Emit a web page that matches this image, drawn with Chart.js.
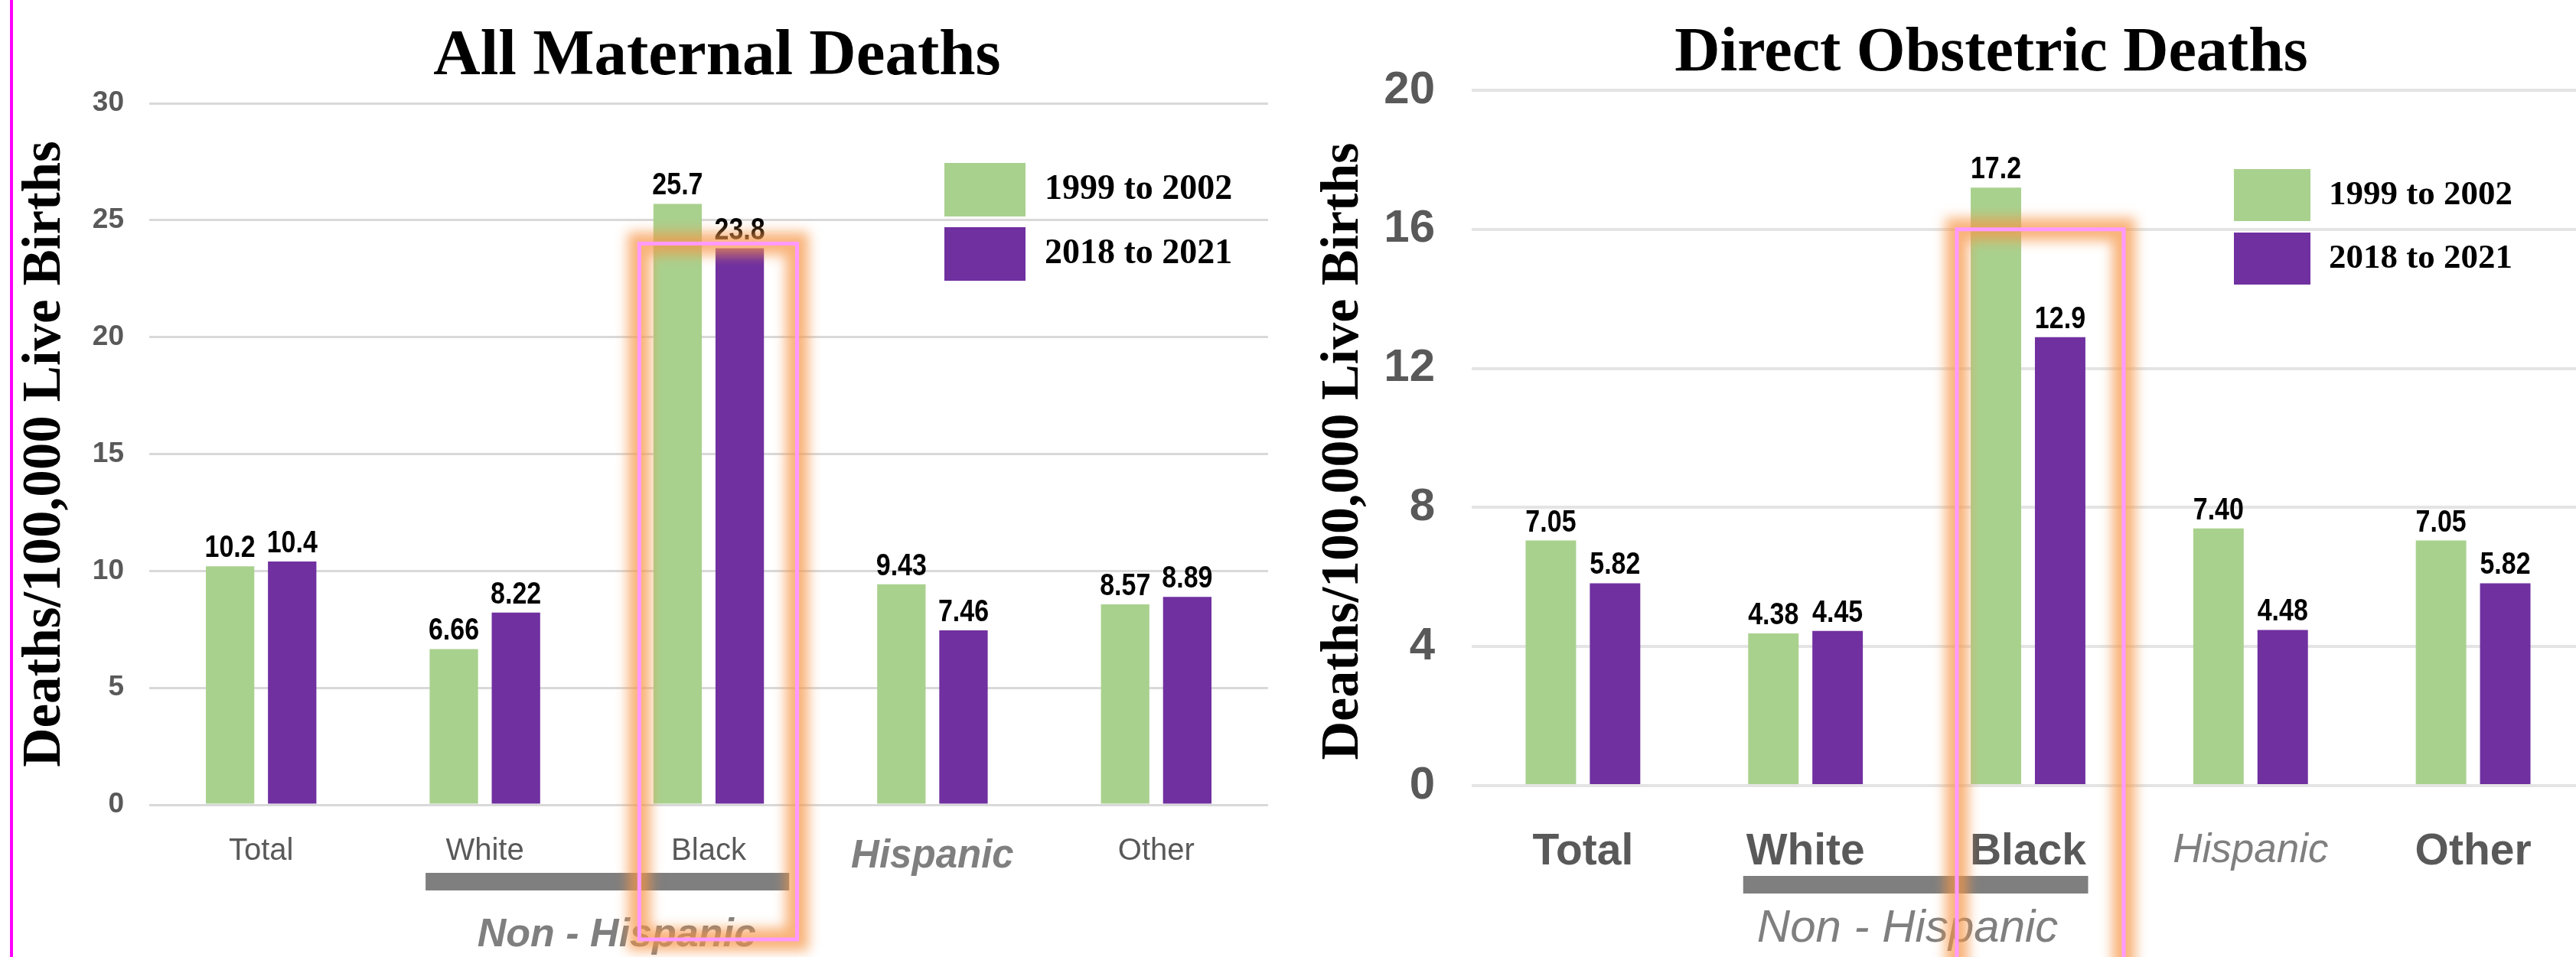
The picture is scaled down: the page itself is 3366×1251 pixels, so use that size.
<!DOCTYPE html>
<html>
<head>
<meta charset="utf-8">
<script src="https://cdn.jsdelivr.net/npm/chart.js@4.4.1/dist/chart.umd.min.js"></script>
<style>
  html, body { margin: 0; padding: 0; background: #fff; width: 3366px; height: 1251px; overflow: hidden; }
  .wrap { position: absolute; top: 0; height: 1251px; }
  #leftWrap { left: 0; width: 1874px; }
  #rightWrap { left: 1680px; width: 1844px; }
  #edge { position: absolute; left: 13px; top: 0; width: 4px; height: 1251px; background: #ff00ff; }
</style>
</head>
<body>
<div id="leftWrap" class="wrap"><canvas id="allChart"></canvas></div>
<div id="rightWrap" class="wrap"><canvas id="directChart"></canvas></div>
<div id="edge"></div>
<script>
// data
const categories = ['Total', 'White', 'Black', 'Hispanic', 'Other'];
const periods = ['1999 to 2002', '2018 to 2021'];
const groupLabel = 'Non - Hispanic';

const allEarly = [10.2, 6.66, 25.7, 9.43, 8.57];
const allLate = [10.4, 8.22, 23.8, 7.46, 8.89];
const allTicks = [0, 5, 10, 15, 20, 25, 30];

const directEarly = [7.05, 4.38, 17.2, 7.40, 7.05];
const directLate = [5.82, 4.45, 12.9, 4.48, 5.82];
const directTicks = [0, 4, 8, 12, 16, 20];

const GREEN = '#a9d18e';
const PURPLE = '#7030a0';

// numbers above the bars
const valueLabels = {
  id: 'valueLabels',
  afterDatasetsDraw(chart, args, opts) {
    const ctx = chart.ctx;
    ctx.save();
    ctx.fillStyle = '#000';
    ctx.font = 'bold 40px "Liberation Sans", Arial, sans-serif';
    ctx.textAlign = 'center';
    ctx.textBaseline = 'alphabetic';
    chart.data.datasets.forEach((ds, i) => {
      chart.getDatasetMeta(i).data.forEach((bar, j) => {
        const v = ds.data[j];
        const txt = v >= 10 ? v.toFixed(1) : v.toFixed(2);
        ctx.save();
        ctx.translate(bar.x, bar.y - opts.gap);
        ctx.scale(0.85, 1);
        ctx.fillText(txt, 0, 0);
        ctx.restore();
      });
    });
    ctx.restore();
  }
};

// stacked legend with big colour boxes
const boxLegend = {
  id: 'boxLegend',
  afterDraw(chart, args, o) {
    const ctx = chart.ctx;
    ctx.save();
    ctx.font = 'bold ' + o.fontSize + 'px "Liberation Serif", serif';
    ctx.textBaseline = 'middle';
    chart.data.datasets.forEach((ds, i) => {
      const y = o.y + i * (o.h + o.gap);
      ctx.fillStyle = ds.backgroundColor;
      ctx.fillRect(o.x, y, o.w, o.h);
      ctx.fillStyle = '#000';
      ctx.fillText(ds.label, o.x + o.w + o.textGap, y + o.h / 2);
    });
    ctx.restore();
  }
};

// grey bracket under White+Black, its label, and the glowing box round Black
const groupMarks = {
  id: 'groupMarks',
  afterDraw(chart, args, o) {
    const { ctx, chartArea } = chart;
    const x = chart.scales.x, y = chart.scales.y;
    const step = x.getPixelForValue(1) - x.getPixelForValue(0);
    ctx.save();
    const gx0 = x.getPixelForValue(1) + o.bar.from * step;
    const gx1 = x.getPixelForValue(2) + o.bar.to * step;
    ctx.fillStyle = '#7f7f7f';
    ctx.fillRect(gx0, chartArea.bottom + o.bar.dy, gx1 - gx0, o.bar.h);

    ctx.font = o.note.font;
    ctx.fillStyle = '#7f7f7f';
    ctx.textAlign = 'center';
    ctx.textBaseline = 'middle';
    const mid = (x.getPixelForValue(1) + x.getPixelForValue(2)) / 2;
    ctx.fillText(groupLabel, mid + o.note.dx, chartArea.bottom + o.note.dy);

    const hx0 = x.getPixelForValue(2) + o.box.from * step;
    const hx1 = x.getPixelForValue(2) + o.box.to * step;
    const hy0 = y.getPixelForValue(o.box.top);
    const hy1 = chartArea.bottom + o.box.dy;
    ctx.filter = 'blur(8px)';
    ctx.strokeStyle = 'rgba(247,150,70,0.72)';
    ctx.lineWidth = 30;
    ctx.strokeRect(hx0, hy0, hx1 - hx0, hy1 - hy0);
    ctx.filter = 'none';
    ctx.strokeStyle = '#ff99ff';
    ctx.lineWidth = 5;
    ctx.strokeRect(hx0, hy0, hx1 - hx0, hy1 - hy0);
    ctx.restore();
  }
};

function makeChart(id, cfg) {
  return new Chart(document.getElementById(id), {
    type: 'bar',
    data: {
      labels: categories,
      datasets: [
        { label: periods[0], data: cfg.early, backgroundColor: GREEN,
          categoryPercentage: cfg.catPct, barPercentage: cfg.barPct },
        { label: periods[1], data: cfg.late, backgroundColor: PURPLE,
          categoryPercentage: cfg.catPct, barPercentage: cfg.barPct }
      ]
    },
    options: {
      responsive: true,
      maintainAspectRatio: false,
      animation: false,
      layout: { padding: 0 },
      scales: {
        x: {
          grid: { display: false },
          border: { display: false },
          ticks: {
            padding: cfg.xPad,
            color: c => c.index === 3 ? '#7f7f7f' : '#595959',
            font: c => c.index === 3 ? cfg.hispFont : cfg.xFont
          },
          afterFit(s) { s.height = cfg.xHeight; }
        },
        y: {
          min: cfg.ticks[0],
          max: cfg.ticks[cfg.ticks.length - 1],
          ticks: { stepSize: cfg.ticks[1] - cfg.ticks[0], padding: cfg.yPad, color: '#595959', font: cfg.yFont },
          grid: { color: cfg.gridColor, lineWidth: cfg.gridWidth, drawTicks: false },
          border: { display: false },
          title: {
            display: true,
            text: 'Deaths/100,000 Live Births' + cfg.yTitleTail,
            color: '#000',
            font: { family: 'Liberation Serif', weight: 'bold', size: cfg.yTitleSize, lineHeight: 1.2 },
            padding: { top: cfg.yTitlePad, bottom: 0 }
          },
          afterFit(s) { s.width = cfg.yWidth; }
        },
        // empty right-hand axis: only keeps room so the title stays centred on the canvas
        spacer: {
          position: 'right',
          ticks: { display: false },
          grid: { display: false },
          border: { display: false },
          afterFit(s) { s.width = cfg.rightSpace; }
        }
      },
      plugins: {
        legend: { display: false },
        tooltip: { enabled: false },
        title: {
          display: true,
          text: cfg.title,
          color: '#000',
          font: { family: 'Liberation Serif', weight: 'bold', size: cfg.titleSize, lineHeight: 1 },
          padding: { top: cfg.titleTop, bottom: cfg.titleBottom }
        },
        valueLabels: { gap: 12 },
        boxLegend: cfg.legend,
        groupMarks: cfg.marks
      }
    },
    plugins: [valueLabels, boxLegend, groupMarks]
  });
}

makeChart('allChart', {
  title: 'All Maternal Deaths', titleSize: 85,
  early: allEarly, late: allLate, ticks: allTicks,
  catPct: 0.555, barPct: 0.78,
  rightSpace: 217, titleTop: 33, titleBottom: 17,
  xHeight: 199, xPad: 29,
  xFont: { family: 'Liberation Sans', size: 40 },
  hispFont: { family: 'Liberation Sans', size: 51, style: 'italic', weight: 'bold' },
  yWidth: 195, yPad: 33,
  yFont: { family: 'Liberation Sans', size: 37, weight: 'bold' },
  yTitleSize: 71, yTitlePad: 17, yTitleTail: '',
  gridColor: '#d9d9d9', gridWidth: 3,
  legend: { x: 1234, y: 213, w: 106, h: 70, gap: 14, textGap: 25, fontSize: 46 },
  marks: {
    bar: { from: -0.265, to: 0.36, dy: 89, h: 23 },
    note: { font: 'italic bold 52px "Liberation Sans", sans-serif', dx: 26, dy: 171 },
    box: { from: -0.31, to: 0.395, top: 24, dy: 176 }
  }
});

makeChart('directChart', {
  title: 'Direct Obstetric Deaths', titleSize: 82,
  early: directEarly, late: directLate, ticks: directTicks,
  catPct: 0.577, barPct: 0.786,
  rightSpace: 147, titleTop: 30, titleBottom: 6,
  xHeight: 224, xPad: 45,
  xFont: { family: 'Liberation Sans', size: 57, weight: 'bold' },
  hispFont: { family: 'Liberation Sans', size: 53, style: 'italic' },
  yWidth: 243, yPad: 48,
  yFont: { family: 'Liberation Sans', size: 60, weight: 'bold' },
  yTitleSize: 70, yTitlePad: 34, yTitleTail: '\u2002',
  gridColor: '#e4e4e4', gridWidth: 4,
  legend: { x: 1239, y: 221, w: 100, h: 68, gap: 15, textGap: 24, fontSize: 45 },
  marks: {
    bar: { from: -0.28, to: 0.27, dy: 118, h: 23 },
    note: { font: 'italic 60px "Liberation Sans", sans-serif', dx: -12, dy: 187 },
    box: { from: -0.32, to: 0.43, top: 16, dy: 320 }
  }
});
</script>
</body>
</html>
